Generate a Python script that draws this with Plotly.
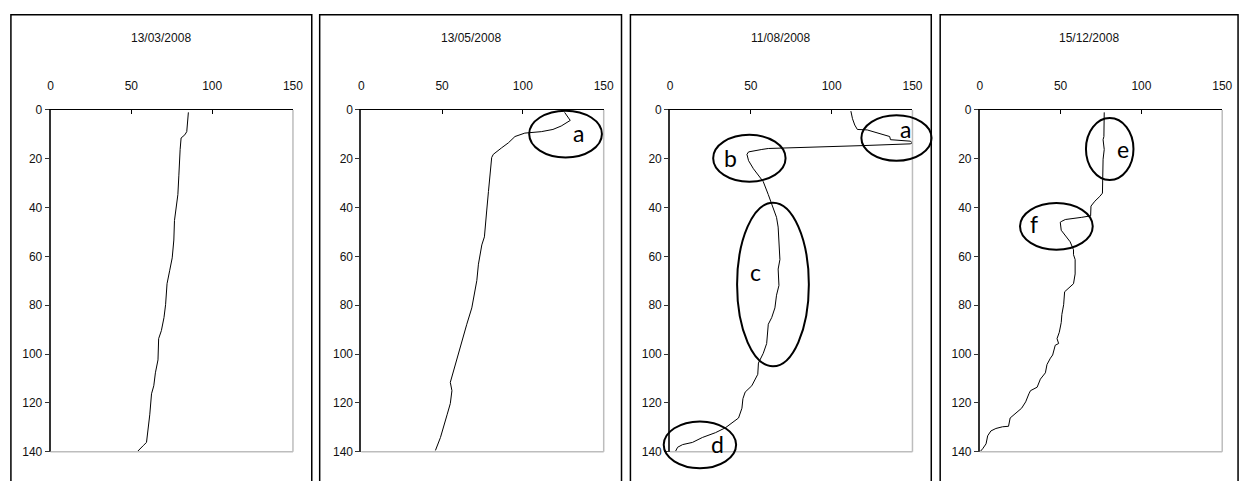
import plotly.graph_objects as go

# Survey dates, one panel each
dates = ["13/03/2008", "13/05/2008", "11/08/2008", "15/12/2008"]

# Depth (vertical axis, downward) and measured value (horizontal axis) per date
depth_1 = [1, 8.9, 10.2, 11.5, 16.2, 20, 27, 34.7, 45.3, 53.3, 60.6, 65.9, 71.2, 79.8,
           85.1, 90.4, 93.7, 102.4, 107.7, 113, 116.3, 124.9, 130.2, 136.2, 137.5, 140]
value_1 = [85.3, 84.3, 83.1, 80.8, 80.2, 79.8, 79.4, 78.8, 76.7, 76.3, 75.3, 73.7, 72.1, 71.2,
           70.2, 68.6, 66.9, 66.5, 64.9, 63.9, 62.5, 61.4, 60.4, 59.4, 57.4, 53.7]

depth_2 = [1, 4.3, 6.6, 8, 8.9, 9.5, 10.9, 13.5, 15.5, 18.2, 19.5, 22.8, 33.4, 41.4, 52,
           55.3, 63.2, 69.9, 73.9, 79.2, 81.1, 87.8, 93.7, 97.7, 103, 107.7, 111.6, 115,
           120.3, 124.9, 130.2, 134.2, 139.5]
value_2 = [125.8, 129.3, 123.7, 118.6, 111.4, 101.2, 95.1, 91, 86.9, 81.7, 80.7, 80.3, 78.7,
           77.6, 76.2, 74.6, 72.5, 71.5, 70.5, 68.9, 68.4, 65.3, 62.7, 61.3, 58.8, 56.5,
           55.1, 56.1, 55.1, 53.1, 51, 49, 45.9]

depth_3 = [0.5, 3.6, 6.2, 8, 8.2, 9.3, 10.2, 10.9, 12.2, 12.6, 12.8, 13.5, 13.9, 14.6, 15.1,
           15.5, 15.8, 16.2, 16.8, 17.2, 18.2, 20.8, 24.1, 26.8, 29.4, 34.7, 39.4, 44, 48,
           57.3, 61.3, 65.2, 71.9, 75.9, 81.1, 85.1, 87.8, 95.7, 99.7, 103.7, 108.3, 113,
           115.6, 118.3, 122.2, 126.2, 127.6, 130.2, 132.2, 134.2, 136.2, 137.1, 138.2, 140]
value_3 = [111.9, 112.9, 114.3, 115.9, 122, 128.2, 133.3, 135.9, 136.4, 142.5, 148.6, 150,
           148.6, 120, 89.4, 71, 60.8, 56.8, 52.7, 48.6, 47.6, 48.6, 51.6, 54.7, 57.7, 60.8,
           63.3, 65.9, 66.9, 67.4, 68, 66.9, 67.4, 65.9, 64.9, 62.9, 60.8, 59.8, 57.7, 54.7,
           54.3, 50.6, 46.5, 45.1, 44.5, 42.4, 39.4, 34.3, 28.2, 20, 13.9, 7.8, 4.7, 3.3]

depth_4 = [1, 10.9, 12.2, 16.2, 20.2, 24.1, 34.1, 35.4, 37.4, 39.4, 43.4, 44, 44.7, 44.9,
           45.6, 46, 49.3, 51.3, 54, 57.3, 59.3, 61.3, 67.2, 71.2, 72.5, 74.5, 79.8, 83.8,
           87.1, 91.1, 93.7, 95.7, 96.4, 98.4, 100.4, 101.7, 104.3, 107.7, 110.3, 113.6, 115,
           116.3, 119.6, 122.2, 124.2, 126.2, 129.6, 129.8, 130.5, 131.5, 133.5, 136.8, 138.8, 140]
value_4 = [77, 76.8, 76.3, 77, 76.3, 76.3, 75.9, 74.3, 71.2, 68.8, 68.6, 63.1, 57, 52.9, 50.8,
           49.8, 50.4, 52.9, 55.9, 58, 58, 59, 59, 58, 55.9, 52.5, 51.9, 50.8, 50.4, 49.2,
           47.8, 48.8, 46.7, 45.7, 45.1, 43.7, 41.6, 40.6, 37.5, 35.5, 31.4, 30.4, 28.4, 25.9,
           22.2, 18.8, 17.8, 14.1, 10, 6.9, 4.9, 3.9, 1.8, 0.2]

depths = [depth_1, depth_2, depth_3, depth_4]
values = [value_1, value_2, value_3, value_4]

# Highlighted zones: panel index, centre (value, depth), half-widths, letter and letter position
zone_panel = [1, 2, 2, 2, 2, 3, 3]
zone_cx = [126.4, 140.1, 49.1, 63.7, 18.5, 80.4, 47.4]
zone_cy = [9.9, 11.5, 19.8, 71.5, 137.2, 16.0, 47.7]
zone_rx = [22.5, 21.7, 22.4, 22.2, 22.4, 14.7, 22.5]
zone_ry = [9.6, 9.3, 9.6, 33.5, 9.6, 12.7, 9.6]
zone_label = ["a", "a", "b", "c", "d", "e", "f"]
zone_lx = [134.4, 145.5, 37.4, 52.7, 29.2, 88.6, 33.5]
zone_ly = [9.5, 8.0, 19.5, 66.5, 136.8, 16.2, 46.9]

x_ticks = [0, 50, 100, 150]
y_ticks = [0, 20, 40, 60, 80, 100, 120, 140]
X_MAX, Y_MAX = 150, 140

W, H = 1253, 481
plot_left_px = [48, 362, 674, 987]
plot_width_px = 245
plot_top_px, plot_bottom_px = 106, 458
box_left_px = [8, 320, 634, 947]
box_right_px = [312, 625, 938, 1248]
box_top_px = 8

dom_y = [1 - plot_bottom_px / H, 1 - plot_top_px / H]
doms_x = [[l / W, (l + plot_width_px) / W] for l in plot_left_px]

fig = go.Figure()
layout = dict(
    width=W, height=H,
    margin=dict(l=0, r=0, t=0, b=0),
    paper_bgcolor="white", plot_bgcolor="white",
    showlegend=False,
    font=dict(family="Liberation Sans, Arial, sans-serif", size=12, color="#111"),
)

shapes = []
annotations = []

def to_paper(i, xv, yv):
    x0, x1 = doms_x[i]
    px = x0 + xv / X_MAX * (x1 - x0)
    py = dom_y[1] - yv / Y_MAX * (dom_y[1] - dom_y[0])
    return px, py

for i in range(4):
    sfx = "" if i == 0 else str(i + 1)
    fig.add_trace(go.Scatter(
        x=values[i], y=depths[i], mode="lines",
        line=dict(color="black", width=1),
        xaxis="x" + sfx, yaxis="y" + sfx, hoverinfo="skip",
    ))
    layout["xaxis" + sfx] = dict(
        domain=doms_x[i], anchor="y" + sfx, side="top",
        range=[0, X_MAX], autorange=False, tickvals=x_ticks,
        showgrid=False, zeroline=False,
        showline=True, linecolor="black", linewidth=1.2,
        ticks="inside", ticklen=4, tickcolor="black", tickwidth=1,
        ticklabelstandoff=14,
        tickfont=dict(size=12, color="#111"),
    )
    layout["yaxis" + sfx] = dict(
        domain=dom_y, anchor="x" + sfx,
        range=[Y_MAX, 0], autorange=False, tickvals=y_ticks,
        showgrid=False, zeroline=False,
        showline=True, linecolor="#333", linewidth=1.6,
        ticks="outside", ticklen=4, tickcolor="#333", tickwidth=1,
        tickfont=dict(size=12, color="#111"),
    )
    # light grey right and bottom edges of the plotting area
    x0, x1 = doms_x[i]
    shapes.append(dict(type="line", xref="paper", yref="paper", x0=x1, x1=x1,
                       y0=dom_y[0], y1=dom_y[1], line=dict(color="#bdbdbd", width=1.5)))
    shapes.append(dict(type="line", xref="paper", yref="paper", x0=x0, x1=x1,
                       y0=dom_y[0], y1=dom_y[0], line=dict(color="#bdbdbd", width=1.5)))
    # outer frame of each chart
    shapes.append(dict(type="rect", xref="paper", yref="paper",
                       x0=box_left_px[i] / W, x1=box_right_px[i] / W,
                       y0=-0.05, y1=1 - box_top_px / H,
                       line=dict(color="black", width=1.5), layer="below"))
    annotations.append(dict(
        text=dates[i], xref="paper", yref="paper",
        x=(box_left_px[i] + box_right_px[i]) / 2 / W, y=1 - 32 / H,
        showarrow=False, xanchor="center", yanchor="middle",
        font=dict(size=12, color="#111"),
    ))

for k in range(len(zone_panel)):
    i = zone_panel[k]
    ax0, ay0 = to_paper(i, zone_cx[k] - zone_rx[k], zone_cy[k] + zone_ry[k])
    ax1, ay1 = to_paper(i, zone_cx[k] + zone_rx[k], zone_cy[k] - zone_ry[k])
    shapes.append(dict(type="circle", xref="paper", yref="paper",
                       x0=ax0, x1=ax1, y0=ay0, y1=ay1,
                       line=dict(color="black", width=2)))
    lx, ly = to_paper(i, zone_lx[k], zone_ly[k])
    annotations.append(dict(
        text=zone_label[k], xref="paper", yref="paper", x=lx, y=ly,
        showarrow=False, xanchor="center", yanchor="middle",
        font=dict(family="Lato, Noto Sans, sans-serif", size=23, color="black"),
    ))

layout["shapes"] = shapes
layout["annotations"] = annotations
fig.update_layout(**layout)
fig.write_html("out.html")
